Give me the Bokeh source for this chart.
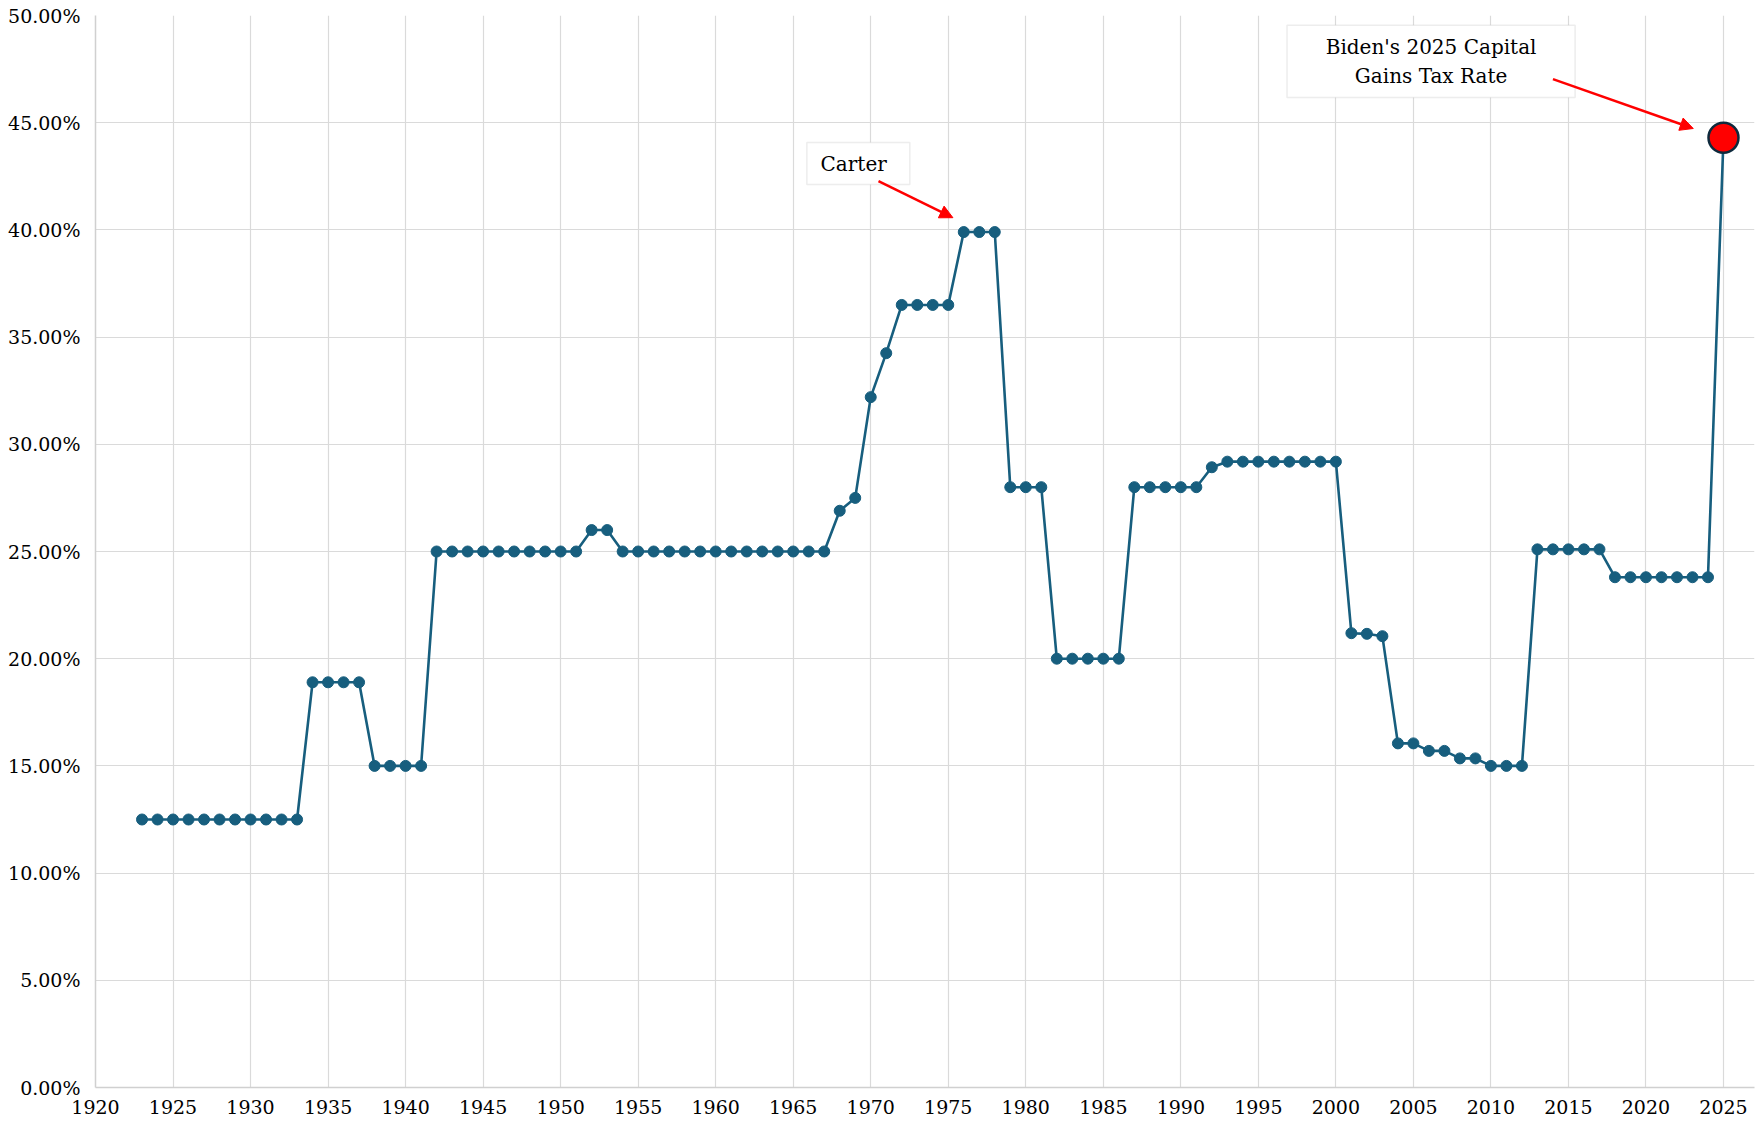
from bokeh.plotting import figure
from bokeh.models import (Range1d, FixedTicker, PrintfTickFormatter, Label,
                          BoxAnnotation, Arrow, NormalHead, ColumnDataSource)
from bokeh.embed import file_html
from bokeh.resources import INLINE

# ---- data ----
years = list(range(1923, 2025))
rates = ([12.5] * 11 +               # 1923-1933
         [18.9] * 4 +                # 1934-1937
         [15.0] * 4 +                # 1938-1941
         [25.0] * 10 +               # 1942-1951
         [26.0] * 2 +                # 1952-1953
         [25.0] * 14 +               # 1954-1967
         [26.9, 27.5, 32.2, 34.25] + # 1968-1971
         [36.5] * 4 +                # 1972-1975
         [39.9] * 3 +                # 1976-1978
         [28.0] * 3 +                # 1979-1981
         [20.0] * 5 +                # 1982-1986
         [28.0] * 5 +                # 1987-1991
         [28.93] +                   # 1992
         [29.19] * 8 +               # 1993-2000
         [21.19, 21.16, 21.05] +     # 2001-2003
         [16.05, 16.05, 15.7, 15.7, 15.35, 15.35] +  # 2004-2009
         [15.0] * 3 +                # 2010-2012
         [25.1] * 5 +                # 2013-2017
         [23.8] * 7)                 # 2018-2024
biden_year = [2025]
biden_rate = [44.3]

x_ticks = list(range(1920, 2030, 5))
y_ticks = list(range(0, 55, 5))

all_years = years + biden_year
all_rates = rates + biden_rate

FONT = "DejaVu Serif"
LINE_COLOR = "#175e7e"

p = figure(width=1758, height=1120, output_backend="svg", toolbar_location=None,
           x_range=Range1d(1920, 2027), y_range=Range1d(0, 50),
           min_border_left=95, min_border_right=4, min_border_top=15,
           min_border_bottom=33)
p.outline_line_color = None
p.background_fill_color = "white"

src = ColumnDataSource(dict(x=all_years, y=all_rates))
src_main = ColumnDataSource(dict(x=years, y=rates))
p.line("x", "y", source=src, line_color=LINE_COLOR, line_width=2.6)
p.scatter("x", "y", source=src_main, size=11, fill_color=LINE_COLOR,
          line_color=LINE_COLOR)
p.scatter(biden_year, biden_rate, size=30, fill_color="#ff0000",
          line_color="#0e2a3d", line_width=2.5)

# axes
p.xaxis.ticker = FixedTicker(ticks=x_ticks)
p.yaxis.ticker = FixedTicker(ticks=y_ticks)
p.yaxis.formatter = PrintfTickFormatter(format="%.2f%%")
for ax in (p.xaxis, p.yaxis):
    ax.major_tick_in = 0
    ax.major_tick_out = 0
    ax.minor_tick_in = 0
    ax.minor_tick_out = 0
    ax.axis_line_color = "#d0d0d0"
    ax.axis_line_width = 1.5
    ax.major_label_text_font = FONT
    ax.major_label_text_color = "black"
p.yaxis.major_label_text_font_size = "19px"
p.xaxis.major_label_text_font_size = "19px"
p.yaxis.major_label_standoff = 15
p.xaxis.major_label_standoff = 12

p.xgrid.ticker = FixedTicker(ticks=x_ticks)
p.ygrid.ticker = FixedTicker(ticks=y_ticks)
p.grid.grid_line_color = "#dadada"
p.grid.grid_line_width = 1.2

# annotation boxes (drawn first so arrows sit on top)
p.add_layout(BoxAnnotation(left=1965.88, right=1972.52, bottom=42.12, top=44.08,
                           fill_color="white", fill_alpha=1.0,
                           line_color="#c4c4c4", line_width=1.5))
p.add_layout(BoxAnnotation(left=1996.85, right=2015.43, bottom=46.18, top=49.54,
                           fill_color="white", fill_alpha=1.0,
                           line_color="#c4c4c4", line_width=1.5))

lbl = dict(text_font=FONT, text_font_size="20px", text_color="black",
           text_align="center", text_baseline="middle")
p.add_layout(Label(x=1968.9, y=43.06, text="Carter", **lbl))
p.add_layout(Label(x=2006.14, y=48.51, text="Biden's 2025 Capital", **lbl))
p.add_layout(Label(x=2006.14, y=47.16, text="Gains Tax Rate", **lbl))

head = dict(fill_color="#ff0000", line_color="#ff0000", size=13)
p.add_layout(Arrow(end=NormalHead(**head), x_start=1970.5, y_start=42.27,
                   x_end=1975.3, y_end=40.57, line_color="#ff0000", line_width=2.5))
p.add_layout(Arrow(end=NormalHead(**head), x_start=2014.0, y_start=47.03,
                   x_end=2023.05, y_end=44.73, line_color="#ff0000", line_width=2.5))

open("out.html", "w").write(file_html(p, INLINE))
